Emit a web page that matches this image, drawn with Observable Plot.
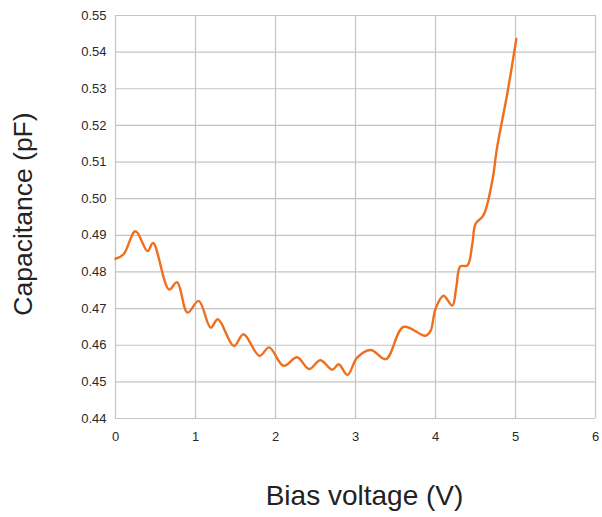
<!DOCTYPE html>
<html>
<head>
<meta charset="utf-8">
<script src="https://cdn.jsdelivr.net/npm/d3@7"></script>
<script src="https://cdn.jsdelivr.net/npm/@observablehq/plot@0.6"></script>
<style>
  body { margin: 0; background: #fff; }
  #chart svg { font-family: "Liberation Sans", Arial, sans-serif; }
  #chart [aria-label="x-axis tick label"] text, #chart [aria-label="y-axis tick label"] text { font-size: 13px; fill: #2a2a2a; }
</style>
</head>
<body>
<div id="chart"></div>
<script>
const voltage = [0.00, 0.10, 0.25, 0.40, 0.47, 0.67, 0.77, 0.90, 1.04, 1.19, 1.28, 1.48, 1.60, 1.80, 1.92, 2.10, 2.27, 2.42, 2.56, 2.71, 2.79, 2.90, 3.02, 3.19, 3.38, 3.60, 3.875, 3.94, 4.00, 4.10, 4.21, 4.26, 4.31, 4.40, 4.46, 4.50, 4.60, 4.71, 4.77, 4.90, 5.01];
const capacitance = [0.4836, 0.4848, 0.4911, 0.4857, 0.4879, 0.4752, 0.4772, 0.4689, 0.4721, 0.4648, 0.4671, 0.4598, 0.4630, 0.4571, 0.4594, 0.4544, 0.4567, 0.4535, 0.4559, 0.4533, 0.4548, 0.4519, 0.4566, 0.4587, 0.4562, 0.4650, 0.4626, 0.4640, 0.4699, 0.4735, 0.4708, 0.4758, 0.4815, 0.4818, 0.4876, 0.4931, 0.4955, 0.5049, 0.5140, 0.5290, 0.5436];
const xTicks = [0, 1, 2, 3, 4, 5, 6];
const yTicks = [0.44, 0.45, 0.46, 0.47, 0.48, 0.49, 0.50, 0.51, 0.52, 0.53, 0.54, 0.55];
const xLabel = "Bias voltage (V)";
const yLabel = "Capacitance (pF)";

const data = voltage.map((v, i) => ({v, c: capacitance[i]}));

const chart = Plot.plot({
  width: 602,
  height: 517,
  marginLeft: 115,
  marginRight: 7,
  marginTop: 15,
  marginBottom: 99,
  x: {domain: [0, 6]},
  y: {domain: [0.44, 0.55]},
  marks: [
    Plot.ruleX(xTicks, {stroke: "#c4c4c4", strokeWidth: 1.2}),
    Plot.ruleY(yTicks, {stroke: "#c4c4c4", strokeWidth: 1.2}),
    Plot.axisX({ticks: xTicks, tickSize: 0, tickPadding: 13, tickFormat: d3.format("d"), label: null}),
    Plot.axisY({ticks: yTicks, tickSize: 0, tickPadding: 9, tickFormat: d3.format(".2f"), label: null}),
    Plot.text([xLabel], {text: d => d, frameAnchor: "bottom", textAnchor: "middle", lineAnchor: "middle", dy: 78, dx: 9, fontSize: 28, fill: "#222"}),
    Plot.text([yLabel], {text: d => d, frameAnchor: "left", textAnchor: "middle", lineAnchor: "middle", rotate: -90, dx: -92, dy: -3, fontSize: 26.5, fill: "#222"}),
    Plot.line(data, {x: "v", y: "c", stroke: "#ef6f1f", strokeWidth: 2.4, curve: "catmull-rom"})
  ]
});
document.getElementById("chart").appendChild(chart);
</script>
</body>
</html>
